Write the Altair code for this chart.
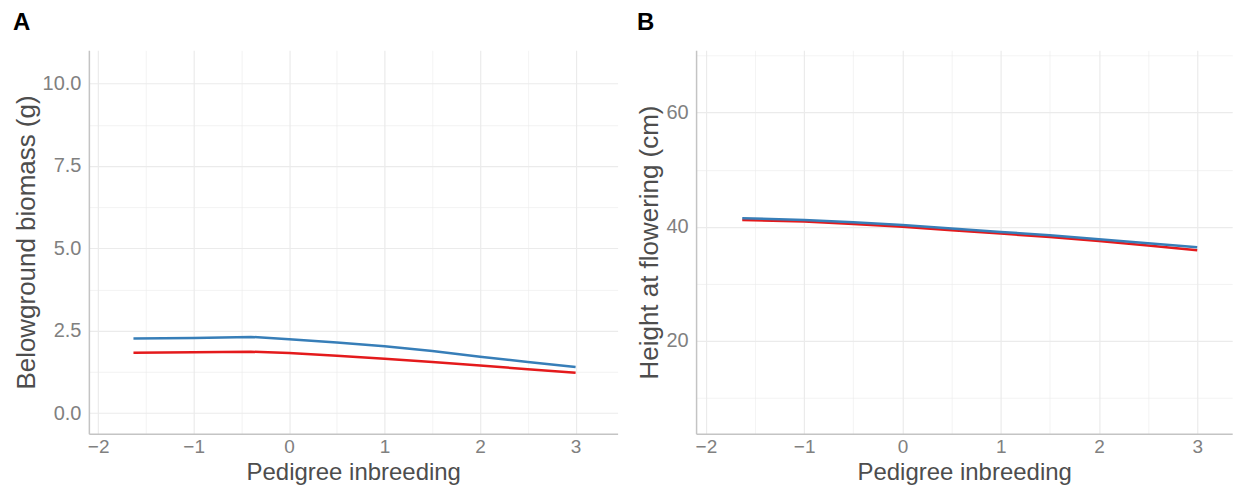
import altair as alt
import pandas as pd

# ---- data ----
a_x = [-1.63, -1.0, -0.4, 0.0, 0.5, 1.0, 1.5, 2.0, 2.5, 3.0]
a_blue = [2.26, 2.28, 2.31, 2.24, 2.14, 2.03, 1.88, 1.71, 1.55, 1.40]
a_red = [1.83, 1.845, 1.86, 1.82, 1.74, 1.65, 1.55, 1.44, 1.33, 1.22]

b_x = [-1.63, -1.0, -0.5, 0.0, 0.5, 1.0, 1.5, 2.0, 2.5, 3.0]
b_blue = [41.5, 41.2, 40.8, 40.3, 39.7, 39.1, 38.5, 37.8, 37.1, 36.4]
b_red = [41.2, 40.9, 40.5, 40.0, 39.4, 38.8, 38.2, 37.5, 36.7, 35.9]

x_ticks = [-2, -1.5, -1, -0.5, 0, 0.5, 1, 1.5, 2, 2.5, 3]
a_y_ticks = [0, 1.25, 2.5, 3.75, 5, 6.25, 7.5, 8.75, 10]
b_y_ticks = [10, 20, 30, 40, 50, 60, 70]

a_x_domain = [-2.097, 3.44]
b_x_domain = [-2.10, 3.356]
a_y_domain = [-0.627, 11.01]
b_y_domain = [3.76, 70.9]

BLUE = "#377EB8"
RED = "#E41A1C"
FONT = "Liberation Sans"

dfA_blue = pd.DataFrame({"x": a_x, "y": a_blue})
dfA_red = pd.DataFrame({"x": a_x, "y": a_red})
dfB_blue = pd.DataFrame({"x": b_x, "y": b_blue})
dfB_red = pd.DataFrame({"x": b_x, "y": b_red})


def grid_w(step):
    return {"condition": {"test": f"datum.value % {step} !== 0", "value": 0.6}, "value": 1.2}


def x_axis():
    return alt.Axis(
        values=x_ticks,
        labelExpr="datum.value % 1 === 0 ? format(datum.value, 'd') : ''",
        title="Pedigree inbreeding",
        grid=True,
        gridColor="#EBEBEB",
        gridWidth=grid_w(1),
        ticks=False,
        tickSize=0,
        domainColor="#C4C4C4",
        domainWidth=1.5,
        labelFont=FONT,
        labelFontSize=19,
        labelColor="#808080",
        labelPadding=4,
        titleFont=FONT,
        titleFontSize=24,
        titleFontWeight="normal",
        titleColor="#4D4D4D",
        titlePadding=4,
    )


def y_axis(values, label_step, fmt, title):
    return alt.Axis(
        values=values,
        labelExpr=f"datum.value % {label_step} === 0 ? format(datum.value, '{fmt}') : ''",
        title=title,
        grid=True,
        gridColor="#EBEBEB",
        gridWidth=grid_w(label_step),
        ticks=False,
        tickSize=0,
        domainColor="#C4C4C4",
        domainWidth=1.5,
        labelFont=FONT,
        labelFontSize=20,
        labelColor="#808080",
        labelPadding=8,
        titleFont=FONT,
        titleFontSize=26,
        titleFontWeight="normal",
        titleColor="#4D4D4D",
        titlePadding=3,
    )


def panel(df_red, df_blue, xdom, ydom, yvals, label_step, fmt, ytitle, tag, width):
    xenc = alt.X("x:Q", scale=alt.Scale(domain=xdom, nice=False, zero=False), axis=x_axis())
    yenc = alt.Y("y:Q", scale=alt.Scale(domain=ydom, nice=False, zero=False),
                 axis=y_axis(yvals, label_step, fmt, ytitle))
    red = alt.Chart(df_red).mark_line(color=RED, strokeWidth=2.5).encode(x=xenc, y=yenc)
    blue = alt.Chart(df_blue).mark_line(color=BLUE, strokeWidth=2.5).encode(x=xenc, y=yenc)
    return alt.layer(red, blue).properties(
        width=width,
        height=384,
        title=alt.TitleParams(
            text=tag, anchor="start", frame="bounds", font=FONT, fontSize=24,
            fontWeight="bold", color="black", offset=15, baseline="top",
        ),
    )


A = panel(dfA_red, dfA_blue, a_x_domain, a_y_domain, a_y_ticks, 2.5, ".1f",
          "Belowground biomass (g)", "A", 529.6)
B = panel(dfB_red, dfB_blue, b_x_domain, b_y_domain, b_y_ticks, 20, "d",
          "Height at flowering (cm)", "B", 537)

chart = alt.hconcat(A, B, spacing=18.2).properties(
    padding={"left": 5, "top": 3, "right": 0, "bottom": 0},
    background="white",
).configure_view(stroke=None)

chart.save("out.html", embed_options={"renderer": "svg", "actions": False})
